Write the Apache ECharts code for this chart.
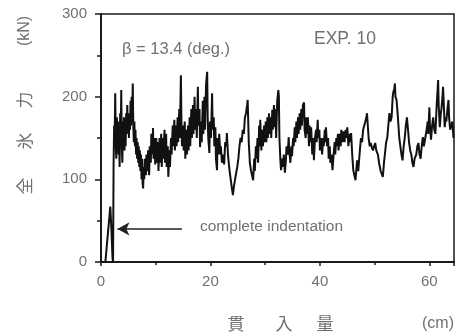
<!DOCTYPE html>
<html>
<head>
<meta charset="utf-8">
<script src="https://cdn.jsdelivr.net/npm/echarts@6/dist/echarts.min.js"></script>
<style>
  html, body { margin: 0; padding: 0; background: #fff; }
  #chart { width: 459px; height: 336px; }
</style>
</head>
<body>
<div id="chart"></div>
<script>
// 貫入量 (cm)
var penetration = [
  0, 0.8, 1.2, 1.7, 1.9, 2.1, 2.2,
  2.3, 2.4, 2.5, 2.6, 2.7, 2.8, 2.9, 3.0, 3.1, 3.2, 3.3, 3.4, 3.5, 3.6, 3.7, 3.8, 3.9, 4.0, 4.1, 4.2, 4.3, 4.4, 4.5, 4.6,
  4.7, 4.8, 4.9, 5.0, 5.1, 5.2, 5.3, 5.4, 5.5, 5.6, 5.7, 5.8, 5.9, 6.0, 6.1, 6.2, 6.3, 6.4, 6.5, 6.6, 6.7, 6.8, 6.9, 7.0,
  7.1, 7.2, 7.3, 7.4, 7.5, 7.6, 7.7, 7.8,
  7.9, 8.0, 8.2, 8.3, 8.5, 8.6, 8.8, 8.9, 9.1, 9.2, 9.4, 9.5, 9.6, 9.8, 9.9, 10.1, 10.2, 10.4, 10.5, 10.7,
  10.8, 11.0, 11.1, 11.3, 11.4, 11.6, 11.7, 11.9, 12.0, 12.2, 12.3, 12.5, 12.6, 12.8, 12.9, 13.1, 13.2, 13.4, 13.5, 13.7,
  13.8, 14.0, 14.1, 14.3, 14.4, 14.6, 14.7, 14.8,
  15.0, 15.1, 15.3, 15.4, 15.6, 15.7, 15.9, 16.0, 16.2, 16.3, 16.5, 16.6, 16.8, 16.9, 17.1, 17.2, 17.4, 17.5, 17.7, 17.8,
  18.0, 18.1, 18.3, 18.4, 18.6, 18.7, 18.9, 19.0, 19.2, 19.4, 19.5, 19.6, 19.8, 19.9, 20.1, 20.3, 20.4, 20.6, 20.7, 20.9,
  21.0, 21.2, 21.3, 21.5, 21.6, 21.8, 21.9, 22.1, 22.3, 22.5, 22.7, 22.9, 23.0, 23.2, 23.3, 23.5, 23.7, 23.9, 24.1,
  24.3, 24.5, 24.7, 24.9, 25.1, 25.3, 25.5, 25.7, 25.9, 26.1, 26.3, 26.5, 26.7, 26.8, 26.9, 27.0, 27.2, 27.4, 27.6, 27.8,
  28.0, 28.1, 28.3, 28.4, 28.6, 28.7, 28.9, 29.0, 29.1, 29.3, 29.5, 29.6, 29.8, 29.9, 30.1, 30.2, 30.4, 30.5, 30.7, 30.8,
  31.0, 31.1, 31.3, 31.4, 31.6, 31.7, 31.9, 32.0, 32.2, 32.4, 32.5, 32.6, 32.8, 32.9,
  33.1, 33.3, 33.4, 33.6, 33.8, 33.9, 34.1, 34.3, 34.4, 34.6, 34.8, 34.9, 35.1, 35.2, 35.4, 35.5, 35.7, 35.8, 36.0, 36.1,
  36.3, 36.4, 36.6, 36.7, 36.9, 37.1, 37.2, 37.4, 37.5, 37.7, 37.8, 38.0, 38.1, 38.3, 38.4, 38.6, 38.8, 38.9, 39.1, 39.3,
  39.4, 39.6, 39.7, 39.9, 40.0, 40.2, 40.4, 40.6, 40.7, 40.9, 41.0, 41.1, 41.3, 41.5, 41.6, 41.8, 41.9, 42.1, 42.3,
  42.5, 42.7, 42.8, 43.0, 43.1, 43.3, 43.4, 43.6, 43.8, 43.9, 44.1, 44.3, 44.5, 44.7, 44.8, 45.0, 45.2, 45.4, 45.5, 45.7,
  45.9, 46.1, 46.3, 46.5, 46.7, 46.8, 47.0, 47.1, 47.3, 47.5, 47.7, 47.9, 48.1, 48.3, 48.5, 48.6, 48.8, 48.9, 49.1, 49.3,
  49.5, 49.7, 49.9, 50.1, 50.3, 50.6, 50.8, 51.1, 51.3, 51.5,
  51.7, 51.9, 52.1, 52.3, 52.5, 52.7, 52.9, 53.1, 53.3, 53.4, 53.6, 53.7, 53.8, 54.0, 54.2, 54.3, 54.5, 54.7, 54.9, 55.1,
  55.3, 55.5, 55.7, 55.9, 56.1, 56.3, 56.5, 56.7, 56.9, 57.1, 57.3, 57.6, 57.8, 58.0, 58.2, 58.4, 58.6, 58.8, 59.0, 59.3,
  59.5, 59.7, 59.8, 60.0, 60.1, 60.3, 60.5, 60.7, 60.9, 61.1, 61.3, 61.6, 61.7, 61.9, 62.1, 62.2, 62.4, 62.5, 62.7, 62.8,
  63.0, 63.1, 63.3, 63.5, 63.6, 63.8, 64.0, 64.2, 64.4
];
// 全氷力 (kN)
var iceForce = [
  0, 0, 30, 67, 40, 5, 0,
  118, 165, 150, 204, 140, 125, 175, 150, 170, 130, 160, 115, 180, 150, 208, 140, 120, 170, 150, 175, 135, 165, 140, 180,
  155, 190, 160, 180, 150, 175, 160, 195, 165, 200, 170, 216, 165, 145, 170, 140, 160, 130, 150, 125, 145, 120, 140, 115,
  135, 110, 130, 100, 125, 95, 89, 115,
  100, 125, 105, 130, 110, 135, 105, 140, 120, 155, 130, 162, 125, 150, 118, 150, 120, 145, 110, 150,
  120, 155, 115, 150, 125, 160, 120, 155, 115, 140, 103, 135, 115, 150, 130, 165, 140, 172, 135, 165,
  140, 175, 145, 185, 150, 226, 165, 140,
  165, 135, 170, 125, 160, 130, 165, 135, 175, 140, 185, 150, 190, 155, 200, 160, 185, 150, 212, 165,
  185, 139, 170, 145, 195, 155, 200, 160, 215, 230, 170, 150, 132, 170, 150, 204, 160, 175, 140, 163,
  125, 111, 150, 130, 155, 130, 140, 120, 130, 118, 145, 140, 156, 130, 123, 110, 100, 90, 81,
  92, 100, 108, 115, 125, 140, 150, 145, 160, 155, 175, 180, 190, 196, 170, 145, 120, 111, 105, 99,
  125, 110, 140, 125, 150, 120, 165, 140, 172, 135, 160, 140, 165, 145, 170, 145, 175, 150, 180, 155,
  175, 150, 184, 160, 190, 163, 185, 150, 195, 208, 200, 150, 120, 111,
  125, 115, 130, 108, 125, 140, 130, 151, 135, 120, 140, 128, 150, 140, 163, 145, 170, 150, 175, 155,
  180, 160, 185, 165, 190, 193, 160, 150, 175, 155, 175, 140, 165, 145, 163, 130, 150, 123, 150, 160,
  145, 172, 150, 160, 135, 150, 130, 150, 140, 160, 145, 163, 140, 150, 125, 140, 120, 130, 111,
  130, 145, 130, 150, 140, 155, 135, 155, 140, 160, 145, 158, 145, 160, 150, 163, 140, 155, 145, 156,
  130, 111, 105, 99, 115, 123, 110, 118, 135, 150, 145, 160, 165, 170, 175, 180, 160, 150, 140, 144,
  138, 135, 140, 144, 135, 130, 120, 110, 108, 103,
  120, 132, 145, 150, 165, 180, 170, 175, 200, 205, 210, 216, 200, 196, 180, 170, 150, 140, 130, 123,
  140, 150, 165, 175, 160, 144, 135, 130, 120, 115, 125, 130, 140, 144, 130, 125, 140, 151, 140, 140,
  160, 170, 155, 187, 165, 148, 165, 175, 160, 155, 185, 220, 190, 163, 180, 185, 200, 212, 180, 163,
  175, 170, 185, 196, 175, 160, 165, 170, 150
];
var xTicks = [0, 20, 40, 60];
var yTicks = [0, 100, 200, 300];

var textGray = '#707070';
var labelFont = 'Liberation Sans Narrow, Liberation Sans, sans-serif';
var cjkFont = 'Noto Sans CJK JP, sans-serif';

var points = penetration.map(function (x, i) { return [x, iceForce[i]]; });

var chart = echarts.init(document.getElementById('chart'));
chart.setOption({
  animation: false,
  backgroundColor: '#fff',
  grid: {
    left: 101, right: 5, top: 14, bottom: 74,
    show: true, borderColor: '#1a1a1a', borderWidth: 1.5,
    outerBoundsMode: 'none'
  },
  xAxis: {
    type: 'value', min: 0, max: 64.5, interval: 20,
    axisLine: { lineStyle: { color: '#1a1a1a', width: 2 } },
    axisTick: { length: 4, lineStyle: { color: '#1a1a1a', width: 1.5 } },
    minorTick: { show: true, splitNumber: 2, length: 3, lineStyle: { color: '#1a1a1a', width: 1.5 } },
    splitLine: { show: false },
    axisLabel: {
      color: textGray, fontSize: 15, fontFamily: labelFont, margin: 12,
      formatter: function (v) { return xTicks.indexOf(v) >= 0 ? String(v) : ''; }
    }
  },
  yAxis: {
    type: 'value', min: 0, max: 300, interval: 100,
    axisLine: { show: true, lineStyle: { color: '#1a1a1a', width: 2 } },
    axisTick: { show: true, length: 6, lineStyle: { color: '#1a1a1a', width: 1.5 } },
    minorTick: { show: true, splitNumber: 2, length: 4, lineStyle: { color: '#1a1a1a', width: 1.5 } },
    splitLine: { show: false },
    axisLabel: {
      color: textGray, fontSize: 15, fontFamily: labelFont, margin: 14,
      formatter: function (v) { return yTicks.indexOf(v) >= 0 ? String(v) : ''; }
    }
  },
  series: [{
    type: 'line',
    data: points,
    showSymbol: false,
    lineStyle: { color: '#111', width: 2 },
    markLine: {
      silent: true,
      symbol: ['none', 'arrow'],
      symbolSize: [10, 12],
      label: { show: false },
      lineStyle: { color: '#222', width: 1.5, type: 'solid' },
      data: [[{ coord: [14.8, 40] }, { coord: [3.0, 40] }]]
    }
  }],
  graphic: [
    { type: 'text', left: 122, top: 41,
      style: { text: 'β = 13.4 (deg.)', fill: textGray, fontSize: 16.5, fontFamily: labelFont } },
    { type: 'text', left: 314, top: 30,
      style: { text: 'EXP. 10', fill: textGray, fontSize: 17.5, fontFamily: labelFont } },
    { type: 'text', left: 200, top: 219,
      style: { text: 'complete indentation', fill: textGray, fontSize: 15.5, fontFamily: labelFont } },
    // y axis name, rotated
    { type: 'text', x: 25, y: 186, rotation: Math.PI / 2,
      style: { text: '全', fill: textGray, fontSize: 17, fontFamily: cjkFont, align: 'center', verticalAlign: 'middle' } },
    { type: 'text', x: 25, y: 141, rotation: Math.PI / 2,
      style: { text: '氷', fill: textGray, fontSize: 17, fontFamily: cjkFont, align: 'center', verticalAlign: 'middle' } },
    { type: 'text', x: 25, y: 100, rotation: Math.PI / 2,
      style: { text: '力', fill: textGray, fontSize: 17, fontFamily: cjkFont, align: 'center', verticalAlign: 'middle' } },
    { type: 'text', x: 25, y: 31, rotation: Math.PI / 2,
      style: { text: '(kN)', fill: textGray, fontSize: 16, fontFamily: labelFont, align: 'center', verticalAlign: 'middle' } },
    // x axis name
    { type: 'text', x: 236, y: 324,
      style: { text: '貫', fill: textGray, fontSize: 17, fontFamily: cjkFont, align: 'center', verticalAlign: 'middle' } },
    { type: 'text', x: 284, y: 324,
      style: { text: '入', fill: textGray, fontSize: 17, fontFamily: cjkFont, align: 'center', verticalAlign: 'middle' } },
    { type: 'text', x: 325, y: 324,
      style: { text: '量', fill: textGray, fontSize: 17, fontFamily: cjkFont, align: 'center', verticalAlign: 'middle' } },
    { type: 'text', x: 438, y: 324,
      style: { text: '(cm)', fill: textGray, fontSize: 16, fontFamily: labelFont, align: 'center', verticalAlign: 'middle' } }
  ]
});
</script>
</body>
</html>
